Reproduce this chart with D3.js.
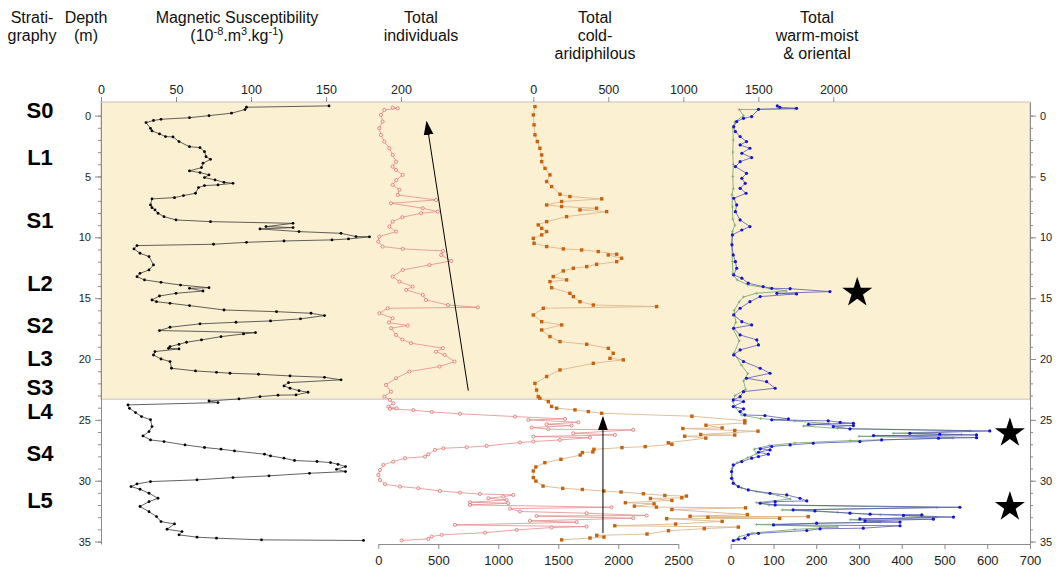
<!DOCTYPE html>
<html>
<head>
<meta charset="utf-8">
<script src="https://cdn.jsdelivr.net/npm/d3@7"></script>
<style>
  body { margin: 0; background: #fff; }
  svg text { font-family: "Liberation Sans", Arial, Helvetica, sans-serif; }
</style>
</head>
<body>
<div id="chart"></div>
<script>
// every series is a list of [depth (m), value]
const magSusc = [
  [-0.8,152],[-0.69,97],[-0.5,96],[-0.2,87],[0,72],[0.17,59],[0.3,40],[0.4,35],[0.57,30],[1.04,33],[1.26,34],[1.5,39],
  [1.72,43],[1.75,48],[2.13,52],[2.55,59],[2.63,66],[2.96,69],[3.37,70],[3.59,73],[3.91,68],[4.27,67],[4.54,59],[4.68,66],
  [4.87,72],[5.09,69],[5.28,76],[5.48,82],[5.56,88],[5.69,78],[5.75,69],[5.91,65],[6.38,63],[6.57,55],[6.74,49],[6.84,34],
  [7.34,33],[7.56,34],[7.75,36],[8.02,38],[8.3,42],[8.57,50],[8.71,73],[8.85,128],[9.12,110],[9.2,128],[9.31,106],[9.53,132],
  [9.67,160],[9.94,170],[9.96,179],[10.13,165],[10.21,154],[10.3,122],[10.41,97],[10.57,75],[10.68,24],[10.95,22],[11.31,26],
  [11.58,32],[12.27,35],[12.68,32],[12.96,26],[13.23,24],[13.5,29],[13.7,40],[13.92,53],[14.14,72],[14.19,59],[14.41,68],
  [14.6,50],[14.82,39],[15.15,34],[15.29,37],[15.42,46],[15.61,59],[15.97,82],[16.11,117],[16.24,140],[16.43,149],[16.7,133],
  [16.87,113],[16.98,90],[17.11,66],[17.39,46],[17.66,39],[17.83,103],[17.94,95],[18.16,80],[18.43,67],[18.62,57],[18.79,52],
  [18.98,46],[19.12,45],[19.17,52],[19.39,36],[19.67,35],[20,40],[20.21,46],[20.76,47],[20.98,63],[21.09,77],[21.17,86],
  [21.25,105],[21.39,126],[21.5,149],[21.71,160],[21.94,125],[22.21,122],[22.4,126],[22.6,132],[22.73,138],[22.95,130],
  [22.97,118],[23.09,106],[23.28,92],[23.45,72],[23.58,78],[23.77,18],[24.05,19],[24.4,23],[24.73,27],[24.99,33],[25.55,34],
  [25.96,32],[26.32,28],[26.65,33],[26.78,42],[27.06,56],[27.27,69],[27.41,80],[27.55,89],[27.82,109],[27.96,113],[28.15,122],
  [28.34,129],[28.42,144],[28.51,153],[28.65,158],[28.84,163],[29.06,157],[29.25,163],[29.39,139],[29.6,112],[29.74,88],
  [29.93,64],[30.07,33],[30.26,24],[30.48,20],[30.7,26],[31.03,32],[31.44,38],[31.72,32],[32.12,26],[32.54,32],[32.95,37],
  [33.36,40],[33.55,49],[33.99,44],[34.18,54],[34.45,52],[34.64,64],[34.72,77],[34.86,107],[34.91,175]
];

const totalIndividuals = [
  [-0.66,120],[-0.6,162],[-0.47,50],[-0.06,22],[0.49,36],[1.04,8],[1.59,22],[2.13,50],[2.68,92],[3.23,120],[3.78,148],
  [4.19,120],[4.46,148],[4.87,203],[5.3,150],[5.69,120],[6.1,176],[6.52,162],[6.93,482],[7.2,106],[7.61,371],[7.89,496],
  [8.02,357],[8.35,200],[8.71,120],[9.12,92],[9.53,148],[9.94,8],[10.35,0],[10.76,36],[10.95,203],[11.12,538],[11.45,524],
  [11.94,608],[12.27,426],[12.68,203],[13.23,120],[13.64,176],[14.05,287],[14.32,232],[14.73,371],[15.15,398],[15.56,580],
  [15.75,830],[15.83,78],[16.24,8],[16.65,120],[17.0,90],[17.25,245],[17.47,106],[18.02,148],[18.4,200],[18.7,273],
  [19.11,538],[19.4,480],[19.66,552],[20.21,635],[20.62,510],[21.03,259],[21.58,148],[22.13,64],[22.68,106],[23.09,50],
  [23.36,97],[23.64,125],[23.91,83],[24.04,153],[24.1,97],[24.2,292],[24.35,445],[24.5,681],[24.73,1139],[24.92,1556],
  [25.0,1250],[25.2,1667],[25.36,1403],[25.47,1611],[25.63,1278],[25.77,1417],[25.82,2125],[26.1,1625],[26.24,1972],
  [26.37,1292],[26.46,1764],[26.65,1514],[26.78,1292],[26.86,1181],[27.14,903],[27.25,737],[27.33,542],[27.47,472],
  [27.82,417],[28.02,389],[28.15,222],[28.43,125],[28.7,42],[29.12,14],[29.53,0],[29.94,14],[30.29,56],[30.48,181],
  [30.62,333],[30.84,514],[30.98,681],[31.09,847],[31.17,1125],[31.31,1042],[31.44,917],[31.58,1069],[31.77,764],
  [31.85,1083],[31.99,764],[32.18,1944],[32.3,1097],[32.53,1181],[32.67,1736],[32.86,2236],[32.9,1319],[33.08,2125],
  [33.3,1264],[33.41,1653],[33.63,639],[33.77,1736],[33.85,1444],[34.04,1153],[34.27,889],[34.45,528],[34.59,445],
  [34.78,417],[34.91,194]
];

const coldAridiphilous = [
  [-0.74,11],[-0.06,0],[0.76,5],[1.58,11],[2.13,27],[2.68,44],[3.23,56],[3.78,56],[4.33,78],[4.87,111],[5.42,89],[5.83,122],
  [6.46,178],[6.65,244],[6.84,456],[7.06,189],[7.34,89],[7.47,189],[7.61,422],[7.75,311],[7.89,489],[8.3,222],[8.71,89],
  [8.98,33],[9.26,56],[9.53,89],[9.8,56],[10.08,0],[10.49,5],[10.76,89],[10.95,200],[11.04,322],[11.17,433],[11.39,556],
  [11.45,500],[11.72,589],[12.0,556],[12.22,422],[12.41,356],[12.54,267],[12.76,200],[13.23,133],[13.5,222],[13.64,111],
  [14.14,122],[14.6,244],[14.87,267],[15.29,311],[15.56,400],[15.69,822],[15.83,67],[16.38,0],[16.93,56],[17.2,189],
  [17.61,56],[18.16,111],[18.57,178],[18.79,356],[19.12,500],[19.53,533],[19.94,511],[20.07,600],[20.35,400],[20.9,178],
  [21.44,89],[22.0,11],[22.55,22],[23.09,33],[23.22,44],[23.5,100],[23.9,122],[24.04,156],[24.18,278],[24.32,367],
  [24.46,456],[24.7,1057],[25.06,1410],[25.25,1410],[25.44,1151],[25.66,1259],[25.71,997],[25.87,1343],[25.93,1498],
  [26.2,1116],[26.25,1343],[26.34,1009],[26.5,1150],[26.88,900],[27.01,924],[27.2,746],[27.28,591],[27.42,404],[27.63,397],
  [27.69,327],[27.89,313],[28.24,184],[28.52,77],[28.87,17],[29.2,0],[29.75,0],[30.03,17],[30.44,65],[30.63,196],[30.72,327],
  [30.85,471],[30.93,585],[31.07,734],[31.21,877],[31.26,1021],[31.4,990],[31.46,781],[31.62,924],[31.81,614],[31.9,805],
  [32.09,674],[32.17,821],[32.23,1415],[32.37,924],[32.78,1427],[32.92,1045],[32.95,1833],[33.0,1164],[33.1,1642],
  [33.12,889],[33.34,1259],[33.56,949],[33.7,543],[33.81,1367],[33.94,1140],[34.11,901],[34.38,758],[34.49,423],[34.63,471],
  [34.71,378],[34.86,189]
];

const warmMoistOriental = [
  [-0.8,109],[-0.69,115],[-0.6,154],[-0.52,65],[0.08,49],[0.22,30],[0.49,14],[0.9,7],[1.31,11],[1.72,22],[2.13,37],[2.41,22],
  [2.68,45],[3.09,26],[3.45,49],[3.78,22],[4.19,11],[4.74,37],[5.15,26],[5.56,34],[5.97,22],[6.38,36],[6.79,7],[7.34,14],
  [7.89,11],[8.57,22],[9.12,45],[9.4,26],[9.8,4],[10.62,3],[11.45,6],[12.0,11],[12.54,14],[13.09,7],[13.36,26],[13.77,41],
  [14.05,76],[14.19,96],[14.22,139],[14.46,232],[14.6,108],[14.65,154],[14.87,69],[15.29,45],[15.83,22],[16.38,7],[16.93,26],
  [17.2,49],[17.47,7],[18.02,22],[18.43,61],[18.84,65],[19.25,22],[19.66,7],[20.21,30],[20.76,69],[21.17,92],[21.58,37],
  [21.86,84],[22.4,104],[22.68,30],[23.09,22],[23.36,6],[23.5,30],[23.91,6],[24.1,30],[24.32,22],[24.59,33],[24.65,80],
  [24.92,135],[25.0,96],[25.08,228],[25.2,256],[25.28,287],[25.36,182],[25.47,287],[25.55,240],[25.74,279],[25.91,606],
  [26.1,419],[26.18,489],[26.24,575],[26.29,334],[26.46,575],[26.51,486],[26.65,353],[26.78,302],[26.92,193],[27.06,139],
  [27.19,96],[27.38,69],[27.47,92],[27.66,65],[27.82,88],[28.02,65],[28.15,49],[28.43,26],[28.7,6],[29.25,2],[29.8,2],
  [30.21,6],[30.48,18],[30.76,41],[31.03,92],[31.17,131],[31.44,162],[31.66,178],[31.72,104],[31.85,69],[31.99,104],
  [32.18,536],[32.4,146],[32.48,197],[32.67,279],[32.75,326],[32.81,447],[32.85,404],[32.99,521],[33.14,302],[33.16,474],
  [33.3,314],[33.4,396],[33.49,201],[33.63,100],[33.7,396],[33.9,310],[33.95,209],[34.09,178],[34.32,65],[34.45,41],
  [34.72,33],[34.81,18],[34.92,6]
];

// lighter green curve drawn under the blue one
const orientalOnly = [
  [-0.55,150],[-0.5,20],[0,30],[0.5,10],[1,5],[2,6],[3,5],[4,6],[5,5],[6,6],[6.5,3],[7.5,4],[8.5,5],[9,10],[9.5,4],
  [10.5,2],[12,4],[13,5],[13.5,15],[13.9,40],[14.2,90],[14.4,130],[14.6,60],[14.9,30],[15.3,20],[16,8],[17,12],[17.5,5],
  [18.5,20],[19.5,8],[20.5,25],[21.2,40],[21.8,30],[22.5,35],[23,10],[23.5,5],[24,12],[24.6,25],[24.9,70],[25.1,150],
  [25.3,230],[25.5,170],[25.7,250],[25.9,560],[26.1,380],[26.2,540],[26.35,300],[26.5,520],[26.7,280],[26.9,150],[27.1,90],
  [27.4,55],[27.8,60],[28.1,40],[28.5,15],[29,3],[29.8,4],[30.3,10],[30.6,25],[30.9,60],[31.2,110],[31.5,140],[31.8,60],
  [32.0,90],[32.2,482],[32.4,120],[32.6,250],[32.8,350],[33.0,480],[33.2,280],[33.4,350],[33.6,60],[33.8,250],[34.0,150],
  [34.3,50],[34.6,20],[34.9,10]
];

const stratLabels = ["S0", "L1", "S1", "L2", "S2", "L3", "S3", "L4", "S4", "L5"];
const stratDepths = [-0.47, 3.37, 8.57, 13.77, 17.2, 19.94, 22.27, 24.3, 27.7, 31.6];

const depthTicks = [0, 5, 10, 15, 20, 25, 30, 35];
const depthMinorTicks = d3.range(0, 36);
const magTicks = [0, 50, 100, 150, 200];
const coldTicks = [0, 500, 1000, 1500, 2000];
const indTicks = [0, 500, 1000, 1500, 2000, 2500];
const warmTicks = [0, 100, 200, 300, 400, 500, 600, 700];

const holoceneBase = 23.3; // depth where the shaded band ends
// star annotations: [warm value, depth]
const stars = [[296, 14.46], [653, 26.0], [653, 32.07]];
// arrows on the individuals scale: [fromValue, fromDepth, toValue, toDepth]
const arrows = [[750, 22.6, 403, 0.54], [1872, 34.3, 1872, 24.8]];

const width = 1061, height = 567;

const svg = d3.select("#chart")
  .append("svg")
  .attr("width", width)
  .attr("height", height);

const y = d3.scaleLinear().domain([-1.12, 35.2]).range([102, 544]);
const xMag = d3.scaleLinear().domain([0, 200]).range([101, 401]);
const xInd = d3.scaleLinear().domain([0, 2500]).range([378.3, 678.3]);
const xCold = d3.scaleLinear().domain([0, 2000]).range([533.3, 833.3]);
const xWarm = d3.scaleLinear().domain([0, 700]).range([730.7, 1030]);

const left = 101, right = 1030;
const plain = d3.format("d");

// shaded band
svg.append("rect")
  .attr("x", left)
  .attr("y", y(-1.12))
  .attr("width", right - left)
  .attr("height", y(holoceneBase) - y(-1.12))
  .attr("fill", "#fcf0d3")
  .attr("stroke", "#c4c4c4")
  .attr("stroke-width", 1);

// headers
const header = svg.append("g").attr("font-size", 16).attr("fill", "#111").attr("text-anchor", "middle");
function headLines(x, lines) {
  lines.forEach((t, i) => header.append("text").attr("x", x).attr("y", 23 + i * 18).text(t));
}
headLines(32, ["Strati-", "graphy"]);
headLines(86, ["Depth", "(m)"]);
headLines(237, ["Magnetic Susceptibility"]);
headLines(421, ["Total", "individuals"]);
headLines(595, ["Total", "cold-", "aridiphilous"]);
headLines(817, ["Total", "warm-moist", "& oriental"]);

const units = header.append("text").attr("x", 237).attr("y", 41);
units.append("tspan").text("(10");
units.append("tspan").attr("dy", -6).attr("font-size", 11).text("-8");
units.append("tspan").attr("dy", 6).text(".m");
units.append("tspan").attr("dy", -6).attr("font-size", 11).text("3");
units.append("tspan").attr("dy", 6).text(".kg");
units.append("tspan").attr("dy", -6).attr("font-size", 11).text("-1");
units.append("tspan").attr("dy", 6).text(")");

// stratigraphy
svg.append("g")
  .selectAll("text")
  .data(stratLabels)
  .join("text")
  .attr("x", 40)
  .attr("y", (d, i) => y(stratDepths[i]))
  .attr("dy", "0.36em")
  .attr("text-anchor", "middle")
  .attr("font-size", 22)
  .attr("font-weight", "bold")
  .attr("fill", "#000")
  .text(d => d);

function styleAxis(g, fs) {
  g.selectAll(".domain").attr("stroke", "#8c8c8c");
  g.selectAll(".tick line").attr("stroke", "#8c8c8c");
  g.selectAll(".tick text").attr("fill", "#222").attr("font-size", fs)
    .attr("font-family", "Liberation Sans, Arial, sans-serif");
}

// depth axes (left and right)
svg.append("g").attr("transform", `translate(${left},0)`)
  .call(d3.axisLeft(y).tickValues(depthMinorTicks).tickSize(3).tickFormat("").tickSizeOuter(0))
  .call(g => styleAxis(g, 11));
svg.append("g").attr("transform", `translate(${left},0)`)
  .call(d3.axisLeft(y).tickValues(depthTicks).tickSize(6).tickPadding(4).tickSizeOuter(0))
  .call(g => g.select(".domain").remove())
  .call(g => styleAxis(g, 11));
svg.append("g").attr("transform", `translate(${right},0)`)
  .call(d3.axisRight(y).tickValues(depthMinorTicks).tickSize(3).tickFormat("").tickSizeOuter(0))
  .call(g => styleAxis(g, 11));
svg.append("g").attr("transform", `translate(${right},0)`)
  .call(d3.axisRight(y).tickValues(depthTicks).tickSize(6).tickPadding(4).tickSizeOuter(0))
  .call(g => g.select(".domain").remove())
  .call(g => styleAxis(g, 11));

// top axes
svg.append("g").attr("transform", `translate(0,${y(-1.12)})`)
  .call(d3.axisTop(xMag).tickValues(magTicks).tickFormat(plain).tickSize(5).tickPadding(3).tickSizeOuter(0))
  .call(g => g.select(".domain").remove())
  .call(g => styleAxis(g, 12.5));
svg.append("g").attr("transform", `translate(0,${y(-1.12)})`)
  .call(d3.axisTop(xCold).tickValues(coldTicks).tickFormat(plain).tickSize(5).tickPadding(3).tickSizeOuter(0))
  .call(g => g.select(".domain").remove())
  .call(g => styleAxis(g, 12.5));

// bottom axes
svg.append("g").attr("transform", `translate(0,${y(35.2)})`)
  .call(d3.axisBottom(xInd).tickValues(indTicks).tickFormat(plain).tickSize(5).tickPadding(7).tickSizeOuter(0))
  .call(g => styleAxis(g, 13));
svg.append("g").attr("transform", `translate(0,${y(35.2)})`)
  .call(d3.axisBottom(xWarm).tickValues(warmTicks).tickFormat(plain).tickSize(5).tickPadding(7).tickSizeOuter(0))
  .call(g => styleAxis(g, 13));

// curves
function drawCurve(data, x, lineColor, lineWidth) {
  const line = d3.line().x(d => x(d[1])).y(d => y(d[0]));
  return svg.append("path")
    .datum(data)
    .attr("d", line)
    .attr("fill", "none")
    .attr("stroke", lineColor)
    .attr("stroke-width", lineWidth)
    .attr("stroke-linejoin", "round");
}

drawCurve(magSusc, xMag, "#3a3a3a", 0.8);
svg.append("g").selectAll("circle")
  .data(magSusc).join("circle")
  .attr("cx", d => xMag(d[1])).attr("cy", d => y(d[0]))
  .attr("r", 1.4).attr("fill", "#000");

drawCurve(totalIndividuals, xInd, "#e58c8c", 0.8);
svg.append("g").selectAll("circle")
  .data(totalIndividuals).join("circle")
  .attr("cx", d => xInd(d[1])).attr("cy", d => y(d[0]))
  .attr("r", 1.6).attr("fill", "#fbe9e9").attr("stroke", "#d9534f").attr("stroke-width", 0.6);

drawCurve(coldAridiphilous, xCold, "#dcb88e", 0.9);
svg.append("g").selectAll("rect")
  .data(coldAridiphilous).join("rect")
  .attr("x", d => xCold(d[1]) - 1.7).attr("y", d => y(d[0]) - 1.7)
  .attr("width", 3.4).attr("height", 3.4).attr("fill", "#c8620c");

drawCurve(orientalOnly, xWarm, "#6fa46a", 0.8);
svg.append("g").selectAll("path")
  .data(orientalOnly).join("path")
  .attr("d", d => `M${xWarm(d[1]) - 1.5},${y(d[0])}h3M${xWarm(d[1])},${y(d[0]) - 1.5}v3`)
  .attr("stroke", "#6fa46a").attr("stroke-width", 0.6);

drawCurve(warmMoistOriental, xWarm, "#5858b8", 0.8);
svg.append("g").selectAll("circle")
  .data(warmMoistOriental).join("circle")
  .attr("cx", d => xWarm(d[1])).attr("cy", d => y(d[0]))
  .attr("r", 1.6).attr("fill", "#1414d2");

// arrows
svg.append("defs").append("marker")
  .attr("id", "head")
  .attr("viewBox", "0 0 10 10")
  .attr("refX", 9).attr("refY", 5)
  .attr("markerWidth", 14).attr("markerHeight", 14)
  .attr("markerUnits", "userSpaceOnUse")
  .attr("orient", "auto")
  .append("path")
  .attr("d", "M0,1.5L10,5L0,8.5Z")
  .attr("fill", "#000");

svg.append("g").selectAll("line")
  .data(arrows).join("line")
  .attr("x1", d => xInd(d[0])).attr("y1", d => y(d[1]))
  .attr("x2", d => xInd(d[2])).attr("y2", d => y(d[3]))
  .attr("stroke", "#000").attr("stroke-width", 1)
  .attr("marker-end", "url(#head)");

// stars
svg.append("g").selectAll("path")
  .data(stars).join("path")
  .attr("transform", d => `translate(${xWarm(d[0])},${y(d[1]) + 1})`)
  .attr("d", d3.symbol(d3.symbolStar, 280))
  .attr("fill", "#000");
</script>
</body>
</html>
